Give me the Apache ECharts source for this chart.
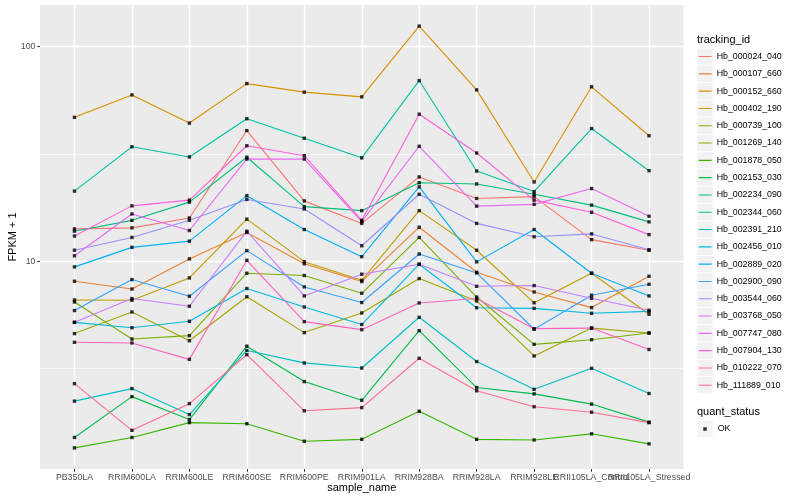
<!DOCTYPE html>
<html>
<head>
<meta charset="utf-8">
<script src="https://cdn.jsdelivr.net/npm/echarts@6/dist/echarts.min.js"></script>
<style>html,body{margin:0;padding:0;background:#fff}#c{width:800px;height:500px}</style>
</head>
<body>
<div id="c"></div>
<script>
// ---- data (values are FPKM + 1) ----
const categories = ['PB350LA','RRIM600LA','RRIM600LE','RRIM600SE','RRIM600PE','RRIM901LA','RRIM928BA','RRIM928LA','RRIM928LE','RRII105LA_Control','RRII105LA_Stressed'];
const trackingIds = ['Hb_000024_040','Hb_000107_660','Hb_000152_660','Hb_000402_190','Hb_000739_100','Hb_001269_140','Hb_001878_050','Hb_002153_030','Hb_002234_090','Hb_002344_060','Hb_002391_210','Hb_002456_010','Hb_002889_020','Hb_002900_090','Hb_003544_060','Hb_003768_050','Hb_007747_080','Hb_007904_130','Hb_010222_070','Hb_111889_010'];
const lineColors = ['#F8766D','#EA8331','#D89000','#C09B00','#A3A500','#7CAE00','#39B600','#00BB4E','#00BF7D','#00C1A3','#00BFC4','#00BAE0','#00B0F6','#35A2FF','#9590FF','#C77CFF','#E76BF3','#FA62DB','#FF62BC','#FF6C91'];
const yTickValues = [10, 100];
const yMinorValues = [3.1623, 31.623];
const quantStatus = ['OK'];

const Hb_000024_040 = [14.15, 14.3, 15.9, 40.6, 19.1, 15.0, 24.7, 19.6, 20.0, 12.6, 11.25];
const Hb_000107_660 = [8.07, 7.42, 10.25, 13.6, 9.73, 8.04, 14.4, 8.88, 7.19, 6.08, 8.51];
const Hb_000152_660 = [46.8, 59.5, 44.0, 67.2, 61.3, 58.3, 124.5, 62.8, 23.4, 64.9, 38.4];
const Hb_000402_190 = [6.60, 6.58, 8.36, 15.7, 9.95, 8.15, 17.2, 11.25, 6.40, 8.79, 5.66];
const Hb_000739_100 = [4.60, 5.80, 4.26, 6.83, 4.65, 5.74, 8.30, 6.53, 3.62, 4.88, 4.63];
const Hb_001269_140 = [6.46, 4.34, 4.50, 8.79, 8.58, 7.09, 12.9, 6.81, 4.10, 4.31, 4.63];
const Hb_001878_050 = [1.35, 1.51, 1.77, 1.75, 1.45, 1.48, 2.00, 1.48, 1.47, 1.57, 1.41];
const Hb_002153_030 = [1.51, 2.34, 1.83, 4.02, 2.75, 2.25, 4.75, 2.58, 2.41, 2.16, 1.78];
const Hb_002234_090 = [13.8, 15.5, 18.85, 30.5, 17.96, 17.2, 23.2, 22.9, 20.5, 18.25, 15.25];
const Hb_002344_060 = [21.2, 34.1, 30.6, 46.1, 37.4, 30.3, 69.4, 26.3, 21.1, 41.5, 26.4];
const Hb_002391_210 = [2.23, 2.55, 1.93, 3.84, 3.36, 3.18, 5.48, 3.41, 2.53, 3.17, 2.42];
const Hb_002456_010 = [5.19, 4.90, 5.25, 7.46, 6.12, 5.07, 9.68, 6.07, 6.03, 5.72, 5.84];
const Hb_002889_020 = [9.41, 11.6, 12.4, 20.2, 14.05, 10.5, 22.2, 9.93, 14.05, 8.79, 6.89];
const Hb_002900_090 = [5.89, 8.21, 6.87, 11.2, 7.59, 6.42, 10.8, 8.82, 4.82, 6.94, 7.81];
const Hb_003544_060 = [11.25, 12.9, 15.5, 19.4, 17.5, 11.8, 20.5, 15.0, 13.0, 13.4, 11.3];
const Hb_003768_050 = [5.19, 6.70, 6.17, 13.8, 6.89, 8.70, 9.68, 7.64, 7.70, 6.72, 5.91];
const Hb_007747_080 = [10.6, 16.6, 13.9, 29.9, 29.9, 15.3, 34.3, 18.05, 18.4, 21.8, 16.2];
const Hb_007904_130 = [13.1, 18.1, 19.25, 34.5, 31.0, 15.5, 48.4, 31.9, 19.25, 16.9, 13.3];
const Hb_010222_070 = [4.19, 4.16, 3.49, 10.1, 5.23, 4.80, 6.39, 6.70, 4.85, 4.88, 3.88];
const Hb_111889_010 = [2.69, 1.63, 2.17, 3.67, 2.01, 2.08, 3.53, 2.49, 2.10, 1.98, 1.77];

const seriesValues = [Hb_000024_040, Hb_000107_660, Hb_000152_660, Hb_000402_190, Hb_000739_100, Hb_001269_140, Hb_001878_050, Hb_002153_030, Hb_002234_090, Hb_002344_060, Hb_002391_210, Hb_002456_010, Hb_002889_020, Hb_002900_090, Hb_003544_060, Hb_003768_050, Hb_007747_080, Hb_007904_130, Hb_010222_070, Hb_111889_010];

// ---- chart ----
const FONT = 'Liberation Sans, Arial, sans-serif';
const lg = v => Math.log10(v);
const allLogs = seriesValues.flat().map(lg);
const lo = Math.min(...allLogs), hi = Math.max(...allLogs);
const pad = (hi - lo) * 0.05;
const yMin = lo - pad, yMax = hi + pad;
const xMin = -0.6, xMax = categories.length - 0.4;
const catIdx = categories.map((c, i) => i);
// label positions: the categories plus the two axis ends (blank) so that ECharts'
// min/max-label overlap rule never removes a real category label
const labelPos = [xMin, ...catIdx, xMax];

const lineSeries = trackingIds.map((id, k) => ({
  name: id,
  type: 'line',
  color: lineColors[k],
  data: seriesValues[k].map((v, i) => [i, lg(v)]),
  symbol: 'none',
  lineStyle: { width: 1.1 },
  z: 2,
  silent: true
}));

const pointSeries = {
  name: quantStatus[0],
  type: 'scatter',
  symbol: 'rect',
  symbolSize: 3.4,
  itemStyle: { color: '#000' },
  data: seriesValues.flatMap(vals => vals.map((v, i) => [i, lg(v)])),
  z: 3,
  silent: true
};

const linePath = 'path://M0,0 L0.01,0 L0.01,0.01 Z M0,7.6 L13,7.6 L13,8.7 L0,8.7 Z M12.99,16.29 L13,16.29 L13,16.3 Z';
const dotPath = 'path://M0,0 L0.01,0 L0.01,0.01 Z M5.95,6.4 L9.45,6.4 L9.45,9.9 L5.95,9.9 Z M15.39,16.29 L15.4,16.29 L15.4,16.3 Z';

const bgLegend = (names, top) => ({
  data: names, orient: 'vertical', left: 697.3, top: top, padding: 0,
  itemGap: 1, itemWidth: 15.4, itemHeight: 16.3, icon: 'rect',
  itemStyle: { color: '#F2F2F2', borderWidth: 0 },
  formatter: () => '', selectedMode: false, z: 3,
  textStyle: { fontSize: 8.8, fontFamily: FONT }
});

const chart = echarts.init(document.getElementById('c'), null, { renderer: 'canvas' });
chart.setOption({
  animation: false,
  backgroundColor: '#fff',
  textStyle: { fontFamily: FONT },
  title: [
    { text: 'tracking_id', left: 697, top: 34.5, padding: 0,
      textStyle: { fontSize: 11, fontWeight: 'normal', color: '#000', fontFamily: FONT } },
    { text: 'quant_status', left: 697, top: 406, padding: 0,
      textStyle: { fontSize: 11, fontWeight: 'normal', color: '#000', fontFamily: FONT } }
  ],
  grid: {
    left: 40, right: 116.5, top: 5, bottom: 31,
    show: true, backgroundColor: '#EBEBEB', borderWidth: 0,
    containLabel: false, outerBoundsMode: 'none'
  },
  xAxis: {
    type: 'value', min: xMin, max: xMax,
    axisLine: { show: false, onZero: false },
    axisTick: { show: true, length: 2.75, customValues: catIdx, lineStyle: { color: '#333333', width: 1 } },
    axisLabel: { customValues: labelPos,
      formatter: v => (Math.abs(v - Math.round(v)) < 1e-6 && categories[Math.round(v)]) || '',
      showMinLabel: false, showMaxLabel: false,
      fontSize: 8.8, color: '#4D4D4D', margin: 4.5, fontFamily: FONT },
    splitLine: { show: true, lineStyle: { color: '#FFFFFF', width: 1.4 } },
    name: 'sample_name', nameLocation: 'middle', nameGap: 13.5, nameMoveOverlap: false,
    nameTextStyle: { fontSize: 11, color: '#000', fontFamily: FONT }
  },
  yAxis: [
    {
      type: 'value', min: yMin, max: yMax,
      axisLine: { show: false, onZero: false },
      axisTick: { show: true, length: 2.75, customValues: yTickValues.map(lg), lineStyle: { color: '#333333', width: 1 } },
      axisLabel: { customValues: yTickValues.map(lg), formatter: v => String(Math.round(Math.pow(10, v))),
        fontSize: 8.8, color: '#4D4D4D', margin: 4.5, fontFamily: FONT },
      splitLine: { show: true, lineStyle: { color: '#FFFFFF', width: 1.4 } },
      name: 'FPKM + 1', nameLocation: 'middle', nameGap: 22, nameRotate: 90, nameMoveOverlap: false,
      nameTextStyle: { fontSize: 11, color: '#000', fontFamily: FONT }
    },
    {
      type: 'value', min: yMin, max: yMax, position: 'right',
      axisLine: { show: false, onZero: false },
      axisTick: { show: false, customValues: yMinorValues.map(lg) },
      axisLabel: { show: false, customValues: yMinorValues.map(lg) },
      splitLine: { show: true, lineStyle: { color: '#FFFFFF', width: 0.7 } }
    }
  ],
  legend: [
    bgLegend(trackingIds, 48.4),
    {
      data: trackingIds.map(id => ({ name: id, icon: linePath })),
      orient: 'vertical', left: 698.7, top: 48.4, padding: 0,
      itemGap: 1, itemWidth: 13, itemHeight: 16.3,
      itemStyle: { borderWidth: 0 },
      textStyle: { fontSize: 8.8, color: '#000', fontFamily: FONT },
      selectedMode: false, z: 4
    },
    bgLegend(quantStatus, 420.85),
    {
      data: quantStatus.map(n => ({ name: n, icon: dotPath })),
      orient: 'vertical', left: 697.3, top: 420.85, padding: 0,
      itemGap: 1, itemWidth: 15.4, itemHeight: 16.3,
      itemStyle: { borderWidth: 0 },
      textStyle: { fontSize: 8.8, color: '#000', fontFamily: FONT },
      selectedMode: false, z: 4
    }
  ],
  series: [...lineSeries, pointSeries]
});
</script>
</body>
</html>
